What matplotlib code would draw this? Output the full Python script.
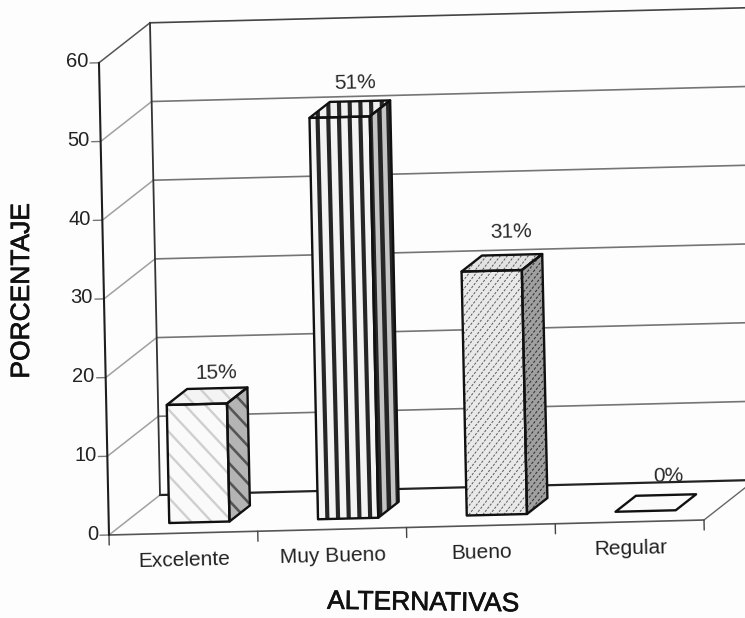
import numpy as np
import matplotlib
matplotlib.use("Agg")
import matplotlib.pyplot as plt
import matplotlib.patheffects as pe
from matplotlib.patches import Polygon

plt.rcParams['font.family'] = ['Liberation Sans', 'DejaVu Sans']

categories = ["Excelente", "Muy Bueno", "Bueno", "Regular"]
values = [15, 51, 31, 0]
value_labels = ["15%", "51%", "31%", "0%"]
y_ticks = [0, 10, 20, 30, 40, 50, 60]
x_title = "ALTERNATIVAS"
y_title = "PORCENTAJE"

fig = plt.figure(figsize=(7.45, 6.18), dpi=100, facecolor="#fdfdfd")
ax = fig.add_axes([0, 0, 1, 1])
ax.set_xlim(0, 745)
ax.set_ylim(618, 0)
ax.axis("off")

# oblique projection of (category, value, depth) on the page (the scan is tilted)
O = np.array([109.0, 535.0])
EX = np.array([148.75, -3.75])
EY = np.array([-0.167, -7.87])
EZ = np.array([51.0, -40.0])


def P(x, y, z=0.0):
    return O + x * EX + y * EY + z * EZ


def line(a, b, color, lw, z=1):
    ax.plot([a[0], b[0]], [a[1], b[1]], color=color, lw=lw, zorder=z,
            solid_capstyle="round", clip_on=True)


XMAX = len(categories)

# walls and floor
for v in y_ticks:
    top = v == y_ticks[-1]
    line(P(0, v), P(0, v, 1), "#555555" if top else "#a0a0a0", 1.1, 1)
    if v:
        line(P(0, v, 1), P(XMAX + 0.1, v, 1), "#444444" if top else "#757575", 1.2, 1)
    line(P(0, v), P(0, v) + np.array([-9, 0.2]), "#777777", 1.0, 1)
line(P(0, 0, 1), P(XMAX + 0.1, 0, 1), "#222222", 1.6, 1)
line(P(0, 0), P(XMAX, 0), "#555555", 1.2, 1)
line(P(XMAX, 0), P(XMAX, 0, 0.85), "#666666", 1.0, 1)
line(P(0, 0), P(0, y_ticks[-1]), "#1e1e1e", 1.5, 2)
line(P(0, 0, 1), P(0, y_ticks[-1], 1), "#333333", 1.3, 2)
for i in range(XMAX + 1):
    line(P(i, 0), P(i, 0) + np.array([0.2, 10]), "#444444", 1.0, 1)


def stripes(poly, angle, spacing, color, lw, zo, dashes=None):
    clip = Polygon(poly, closed=True, fill=False, ec="none", zorder=zo)
    ax.add_patch(clip)
    c = np.mean(poly, axis=0)
    d = np.array([np.cos(np.radians(angle)), np.sin(np.radians(angle))])
    n = np.array([-d[1], d[0]])
    for off in np.arange(-45, 46) * spacing:
        a, b = c + off * n - 700 * d, c + off * n + 700 * d
        ln, = ax.plot([a[0], b[0]], [a[1], b[1]], color=color, lw=lw,
                      zorder=zo, solid_capstyle="butt")
        if dashes:
            ln.set_linestyle((0, dashes))
        ln.set_clip_path(clip)


FACE = [("#fafafa", "#f4f4f4", "#b4b4b4"),
        ("#f4f4f4", "#f0f0f0", "#c4c4c4"),
        ("#e9e9e9", "#e2e2e2", "#a0a0a0"),
        ("#fbfbfb", "#fbfbfb", "#fbfbfb")]
HATCH = [
    dict(angle=47, spacing=15, color="#cfcfcf", lw=1.7, dashes=None),
    dict(angle=88.6, spacing=10.7, color="#262626", lw=3.0, dashes=None),
    dict(angle=-52, spacing=5.5, color="#5a5a5a", lw=0.7, dashes=(2.5, 1.5)),
    None,
]
SIDE_COL = ["#555555", "#262626", "#333333", None]
LABEL_SHIFT = [(9, -23), (5, -26), (9, -31), (12, -27)]

BW = 0.405
Z0, Z1 = 0.27, 0.67
for i, (val, lab) in enumerate(zip(values, value_labels)):
    cx = i + 0.515
    x0, x1 = cx - BW / 2, cx + BW / 2
    front = np.array([P(x0, 0, Z0), P(x1, 0, Z0), P(x1, val, Z0), P(x0, val, Z0)])
    side = np.array([P(x1, 0, Z0), P(x1, 0, Z1), P(x1, val, Z1), P(x1, val, Z0)])
    top = np.array([P(x0, val, Z0), P(x1, val, Z0), P(x1, val, Z1), P(x0, val, Z1)])
    zo = 5 + i
    fc_front, fc_top, fc_side = FACE[i]
    if val > 0:
        ax.add_patch(Polygon(front, closed=True, fc=fc_front, ec="none", zorder=zo))
        ax.add_patch(Polygon(side, closed=True, fc=fc_side, ec="none", zorder=zo))
    ax.add_patch(Polygon(top, closed=True, fc=fc_top, ec="none", zorder=zo))
    h = HATCH[i]
    if h is not None:
        stripes(front, h["angle"], h["spacing"], h["color"], h["lw"], zo + 0.1, h["dashes"])
        stripes(top, h["angle"], h["spacing"], h["color"], h["lw"], zo + 0.1, h["dashes"])
        stripes(side, h["angle"], h["spacing"] * 0.85, SIDE_COL[i], h["lw"] * 1.1, zo + 0.1, h["dashes"])
    for poly in ([front, side, top] if val > 0 else [top]):
        ax.add_patch(Polygon(poly, closed=True, fill=False, ec="#111111", lw=1.7,
                             zorder=zo + 0.2, joinstyle="round"))
    mid = P(cx, val, (Z0 + Z1) / 2)
    ax.text(mid[0] + LABEL_SHIFT[i][0], mid[1] + LABEL_SHIFT[i][1], lab, fontsize=15,
            color="#2a2a2a", ha="center", va="center", rotation=1.3, zorder=20)

TXT = "#222222"
for v in y_ticks:
    p = P(0, v)
    ax.text(p[0] - 11, p[1] - 1, str(v), fontsize=14.5, color=TXT, ha="right", va="center")
for i, c in enumerate(categories):
    p = P(i + 0.5, 0)
    ax.text(p[0] + 1, p[1] + 27, c, fontsize=15, color=TXT, ha="center", va="center",
            rotation=1.4, rotation_mode="anchor")

stroke = [pe.withStroke(linewidth=0.5, foreground="#111111")]
ax.text(423, 603, x_title, fontsize=19, color="#111111", ha="center", va="center",
        rotation=-0.8, path_effects=stroke)
ax.text(22, 291, y_title, fontsize=19, color="#111111", ha="center", va="center",
        rotation=90, path_effects=stroke)

fig.savefig("out.png", dpi=100, facecolor=fig.get_facecolor())
